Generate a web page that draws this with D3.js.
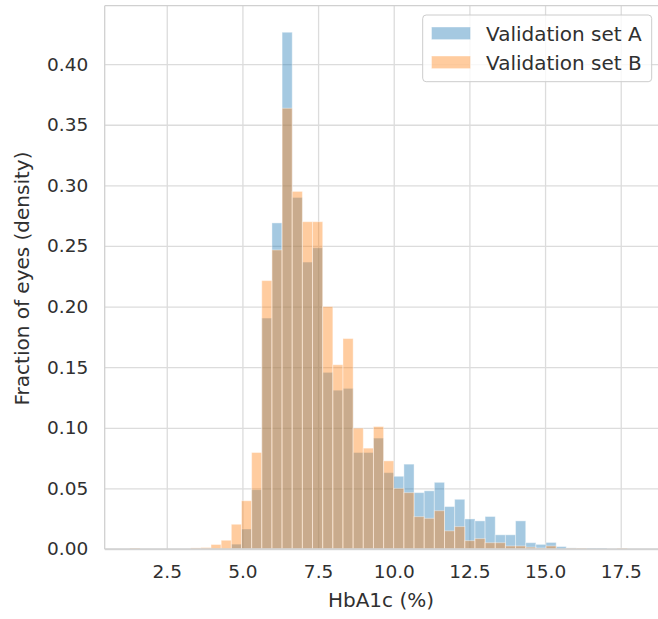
<!DOCTYPE html>
<html>
<head>
<meta charset="utf-8">
<script src="https://cdn.jsdelivr.net/npm/d3@7"></script>
<style>
  html, body { margin: 0; padding: 0; background: #ffffff; }
  svg { display: block; font-family: "DejaVu Sans", sans-serif; }
</style>
</head>
<body>
<svg id="chart" width="658" height="619"></svg>
<script>
// Histogram bin edges (HbA1c %), 50 equal bins
const binEdges = [
  1.280, 1.615, 1.951, 2.286, 2.622, 2.957, 3.292, 3.628, 3.963, 4.299,
  4.634, 4.969, 5.305, 5.640, 5.976, 6.311, 6.646, 6.982, 7.317, 7.653,
  7.988, 8.323, 8.659, 8.994, 9.330, 9.665, 10.000, 10.336, 10.671, 11.007,
  11.342, 11.677, 12.013, 12.348, 12.684, 13.019, 13.354, 13.690, 14.025, 14.361,
  14.696, 15.032, 15.367, 15.702, 16.038, 16.373, 16.709, 17.044, 17.380, 17.715,
  18.050
];

// Density per bin, validation set A
const densityA = [
  0, 0, 0, 0, 0, 0, 0, 0, 0, 0,
  0.0040, 0.0165, 0.0490, 0.1905, 0.2690, 0.4263, 0.2900, 0.2367, 0.2485, 0.1457,
  0.1310, 0.1325, 0.0796, 0.0796, 0.0915, 0.0630, 0.0600, 0.0700, 0.0465, 0.0480,
  0.0550, 0.0350, 0.0410, 0.0248, 0.0232, 0.0268, 0.0117, 0.0117, 0.0232, 0.0052,
  0.0038, 0.0054, 0.0020, 0.0009, 0.0006, 0.0007, 0.0007, 0, 0, 0
];

// Density per bin, validation set B
const densityB = [
  0.0008, 0, 0, 0, 0, 0, 0.0009, 0.0012, 0.0037, 0.0072,
  0.0204, 0.0398, 0.0796, 0.2214, 0.2467, 0.3636, 0.2950, 0.2700, 0.2700, 0.2000,
  0.1520, 0.1736, 0.0997, 0.0832, 0.1010, 0.0727, 0.0500, 0.0465, 0.0267, 0.0253,
  0.0316, 0.0150, 0.0185, 0.0069, 0.0086, 0.0052, 0.0052, 0.0025, 0.0025, 0.0015,
  0.0008, 0.0025, 0, 0.0006, 0.0007, 0, 0, 0, 0.0007, 0
];

const xTicks = [2.5, 5.0, 7.5, 10.0, 12.5, 15.0, 17.5];
const yTicks = [0.00, 0.05, 0.10, 0.15, 0.20, 0.25, 0.30, 0.35, 0.40];

const seriesNames = ["Validation set A", "Validation set B"];
const seriesColors = ["#1f77b4", "#ff7f0e"];

const svg = d3.select("#chart");
const plot = { left: 104.7, right: 662.8, top: 5.7, bottom: 549 };

const x = d3.scaleLinear().domain([0.45, 18.89]).range([plot.left, plot.right]);
const y = d3.scaleLinear().domain([0, 0.4482]).range([plot.bottom, plot.top]);

const textColor = "#303030";
const gridColor = "#dcdcdc";
const tickFont = 18.5;
const labelFont = 20;

// Grid lines (drawn under the bars)
const gx = svg.append("g")
  .attr("transform", `translate(0,${plot.bottom})`)
  .call(d3.axisBottom(x).tickValues(xTicks).tickSize(-(plot.bottom - plot.top)).tickFormat(d3.format(".1f")).tickPadding(16));
gx.select(".domain").remove();
gx.selectAll(".tick line").attr("stroke", gridColor).attr("stroke-width", 1.3);
gx.selectAll(".tick text").attr("fill", textColor).attr("font-size", tickFont).attr("font-family", "DejaVu Sans");

const gy = svg.append("g")
  .attr("transform", `translate(${plot.left},0)`)
  .call(d3.axisLeft(y).tickValues(yTicks).tickSize(-(plot.right - plot.left)).tickFormat(d3.format(".2f")).tickPadding(16.5));
gy.select(".domain").remove();
gy.selectAll(".tick line").attr("stroke", gridColor).attr("stroke-width", 1.3);
gy.selectAll(".tick text").attr("fill", textColor).attr("font-size", tickFont).attr("font-family", "DejaVu Sans");

// Bars
svg.append("clipPath").attr("id", "plotClip")
  .append("rect")
  .attr("x", plot.left).attr("y", plot.top)
  .attr("width", plot.right - plot.left).attr("height", plot.bottom - plot.top);

const bins = binEdges.slice(0, -1).map((x0, i) => ({ x0, x1: binEdges[i + 1], i }));
const barLayer = svg.append("g").attr("clip-path", "url(#plotClip)");

[densityA, densityB].forEach((vals, s) => {
  barLayer.append("g")
    .selectAll("rect")
    .data(bins.filter(b => vals[b.i] > 0))
    .join("rect")
    .attr("x", b => x(b.x0))
    .attr("width", b => x(b.x1) - x(b.x0))
    .attr("y", b => y(vals[b.i]))
    .attr("height", b => y(0) - y(vals[b.i]))
    .attr("fill", seriesColors[s])
    .attr("fill-opacity", 0.4)
    .attr("stroke", "#ffffff")
    .attr("stroke-opacity", 0.4)
    .attr("stroke-width", 1);
});

// Axes frame
const spineColor = "#d0d0d0";
svg.append("line").attr("x1", plot.left).attr("x2", plot.left)
  .attr("y1", plot.top).attr("y2", plot.bottom)
  .attr("stroke", spineColor).attr("stroke-width", 1.3);
svg.append("line").attr("x1", plot.left).attr("x2", plot.right)
  .attr("y1", plot.bottom).attr("y2", plot.bottom)
  .attr("stroke", spineColor).attr("stroke-width", 1.3);
svg.append("line").attr("x1", plot.left).attr("x2", plot.right)
  .attr("y1", plot.top).attr("y2", plot.top)
  .attr("stroke", spineColor).attr("stroke-width", 1.3);

// Axis labels
svg.append("text")
  .attr("x", 381)
  .attr("y", 607)
  .attr("text-anchor", "middle")
  .attr("fill", textColor)
  .attr("font-size", labelFont)
  .text("HbA1c (%)");

svg.append("text")
  .attr("transform", "translate(29,278.5) rotate(-90)")
  .attr("text-anchor", "middle")
  .attr("fill", textColor)
  .attr("font-size", labelFont)
  .text("Fraction of eyes (density)");

// Legend
const legend = svg.append("g");
legend.append("rect")
  .attr("x", 422.7).attr("y", 15)
  .attr("width", 229).attr("height", 66.7)
  .attr("rx", 3.5)
  .attr("fill", "#ffffff").attr("fill-opacity", 0.8)
  .attr("stroke", "#cccccc").attr("stroke-width", 1);

seriesNames.forEach((name, i) => {
  const cy = 33.3 + i * 29;
  legend.append("rect")
    .attr("x", 431.5).attr("y", cy - 6.3)
    .attr("width", 39).attr("height", 12.6)
    .attr("fill", seriesColors[i]).attr("fill-opacity", 0.4)
    .attr("stroke", "#ffffff").attr("stroke-opacity", 0.4);
  legend.append("text")
    .attr("x", 486).attr("y", cy)
    .attr("dy", "0.36em")
    .attr("fill", textColor)
    .attr("font-size", labelFont)
    .text(name);
});
</script>
</body>
</html>
